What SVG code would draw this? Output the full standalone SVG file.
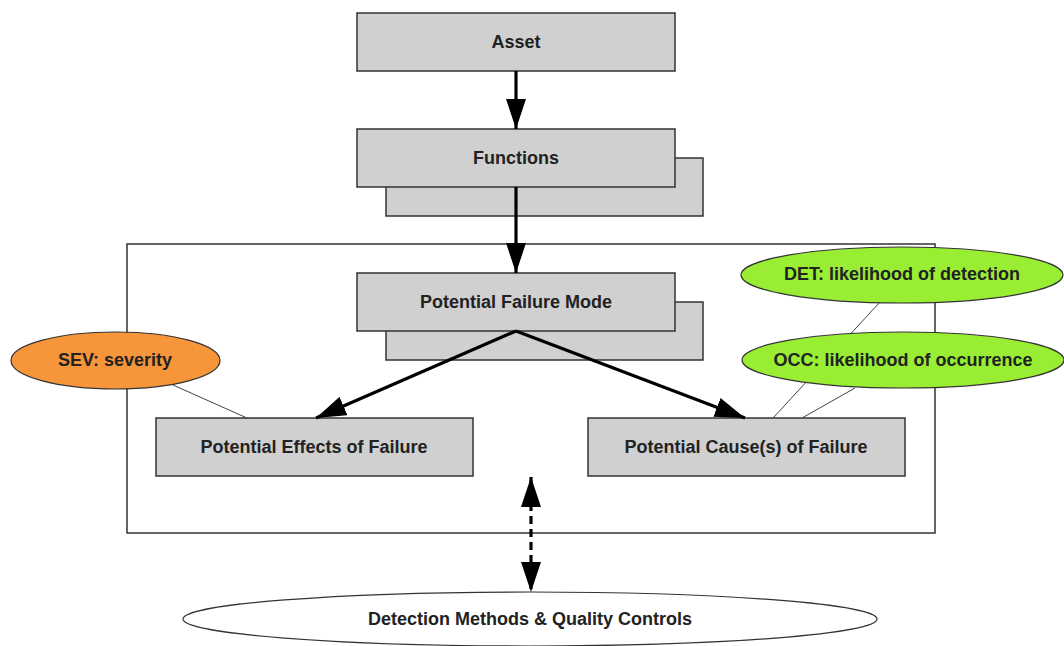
<svg xmlns="http://www.w3.org/2000/svg" width="1064" height="646" viewBox="0 0 1064 646">
<defs>
<style>
.box{fill:#d0d0d0;stroke:#333;stroke-width:1.5}
.lbl{font-family:"Liberation Sans",Arial,sans-serif;font-weight:bold;font-size:18px;fill:#222;text-anchor:middle;dominant-baseline:central}
.thin{stroke:#444;stroke-width:1;fill:none}
.thick{stroke:#000;stroke-width:3.2;fill:none}
</style>
<marker id="ah" viewBox="0 0 30 20" refX="30" refY="10" markerWidth="30" markerHeight="20" markerUnits="userSpaceOnUse" orient="auto-start-reverse">
<path d="M0,0 L30,10 L0,20 Z" fill="#000"/>
</marker>
</defs>
<rect width="1064" height="646" fill="#fff"/>
<g id="frame"><rect x="127" y="244" width="808" height="289" fill="none" stroke="#333" stroke-width="1.5"/></g>
<g id="asset"><rect class="box" x="357" y="13" width="318" height="58"/><text class="lbl" x="516" y="42">Asset</text></g>
<g id="functions"><rect class="box" x="386" y="158" width="317" height="58"/><rect class="box" x="357" y="129" width="318" height="58"/><text class="lbl" x="516" y="158">Functions</text></g>
<g id="failure-mode"><rect class="box" x="386" y="302" width="317" height="58"/><rect class="box" x="357" y="273" width="318" height="58"/><text class="lbl" x="516" y="302">Potential Failure Mode</text></g>
<g id="effects"><rect class="box" x="156" y="418" width="317" height="58"/><text class="lbl" x="314" y="447">Potential Effects of Failure</text></g>
<g id="causes"><rect class="box" x="588" y="418" width="317" height="58"/><text class="lbl" x="746" y="447">Potential Cause(s) of Failure</text></g>
<g id="connectors">
<line class="thick" x1="516" y1="71" x2="516" y2="129" marker-end="url(#ah)"/>
<line class="thick" x1="516" y1="187" x2="516" y2="273" marker-end="url(#ah)"/>
<line class="thick" x1="516" y1="331" x2="316" y2="418" marker-end="url(#ah)"/>
<line class="thick" x1="516" y1="331" x2="745" y2="418" marker-end="url(#ah)"/>
<line class="thick" x1="531" y1="477" x2="531" y2="592" stroke-dasharray="8,5" marker-start="url(#ah)" marker-end="url(#ah)"/>
<line class="thin" x1="173" y1="385" x2="247" y2="418"/>
<line class="thin" x1="880" y1="302" x2="773" y2="418"/>
<line class="thin" x1="855" y1="388" x2="802" y2="418"/>
</g>
<g id="sev"><ellipse cx="115.5" cy="360.5" rx="104.5" ry="28.5" fill="#f7953b" stroke="#333" stroke-width="1.2"/><text class="lbl" x="115" y="360">SEV: severity</text></g>
<g id="det"><ellipse cx="902" cy="275" rx="161" ry="28" fill="#99ee33" stroke="#333" stroke-width="1.2"/><text class="lbl" x="902" y="274">DET: likelihood of detection</text></g>
<g id="occ"><ellipse cx="903" cy="360" rx="161" ry="28" fill="#99ee33" stroke="#333" stroke-width="1.2"/><text class="lbl" x="903" y="360">OCC: likelihood of occurrence</text></g>
<g id="detection"><ellipse cx="530" cy="619" rx="347" ry="27" fill="#fff" stroke="#333" stroke-width="1.2"/><text class="lbl" x="530" y="619">Detection Methods &amp; Quality Controls</text></g>
</svg>
